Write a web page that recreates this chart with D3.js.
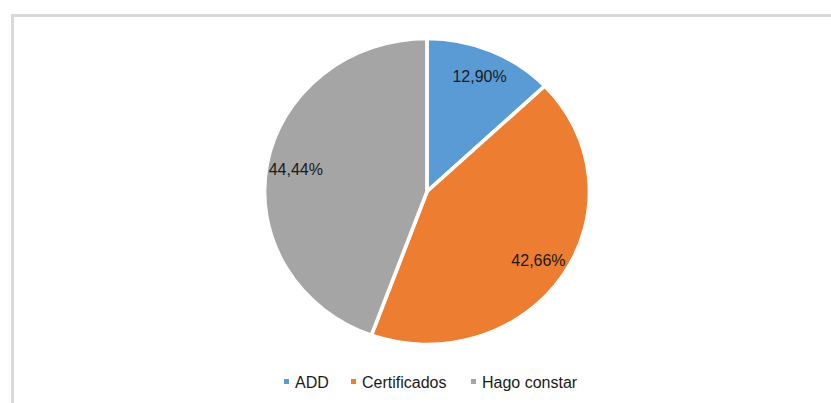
<!DOCTYPE html>
<html>
<head>
<meta charset="utf-8">
<script src="https://cdn.jsdelivr.net/npm/d3@7"></script>
<style>
  body { margin: 0; background: #fff; }
  svg { display: block; font-family: 'Liberation Sans', Arial, sans-serif; }
</style>
</head>
<body>
<svg id="chart" width="831" height="403"></svg>
<script>
// DATA
const categories = ['ADD', 'Certificados', 'Hago constar'];
const values = [12.90, 42.66, 44.44];
const colors = ['#5b9bd5', '#ed7d31', '#a5a5a5'];

const svg = d3.select('#chart');
const W = 831, H = 403;

// FRAME (chart area border, cut off by the screenshot)
svg.append('path')
  .attr('d', `M12.5,${H + 5}V15.5H${W + 5}`)
  .attr('fill', 'none')
  .attr('stroke', '#d9d9d9')
  .attr('stroke-width', 3);

// PIE (slightly wider than tall, as in the source)
const cx = 427, cy = 191.5, rx = 162.5, ry = 153;
const r = ry;

const pie = d3.pie().sort(null).value(d => d.value);
const arc = d3.arc().innerRadius(0).outerRadius(r);
const labelArc = d3.arc().innerRadius(r * 0.82).outerRadius(r * 0.82);

const data = categories.map((c, i) => ({ cat: c, value: values[i], color: colors[i] }));
const arcs = pie(data);

const g = svg.append('g')
  .attr('transform', `translate(${cx},${cy}) scale(${rx / r},1)`);

g.selectAll('.slice')
  .data(arcs)
  .enter()
  .append('path')
  .attr('class', 'slice')
  .attr('d', arc)
  .attr('fill', d => d.data.color)
  .attr('stroke', '#fff')
  .attr('stroke-width', 3.5)
  .attr('stroke-linejoin', 'miter');

// LABELS
const fmt = v => d3.format('.2f')(v).replace('.', ',') + '%';
svg.selectAll('.lbl')
  .data(arcs)
  .enter()
  .append('text')
  .attr('class', 'lbl')
  .attr('x', d => cx + labelArc.centroid(d)[0] * rx / r)
  .attr('y', d => cy + labelArc.centroid(d)[1])
  .attr('text-anchor', 'middle')
  .attr('dominant-baseline', 'central')
  .attr('font-size', 16)
  .attr('fill', '#1a1a1a')
  .text(d => fmt(d.data.value));

// LEGEND
const legend = svg.append('g').attr('class', 'legend');
const legendX = [284, 351, 471];
const items = legend.selectAll('g')
  .data(data)
  .enter()
  .append('g')
  .attr('transform', (d, i) => `translate(${legendX[i]},382)`);
items.append('rect')
  .attr('x', 0).attr('y', -3)
  .attr('width', 5).attr('height', 5)
  .attr('fill', d => d.color);
items.append('text')
  .attr('x', 11)
  .attr('y', 0)
  .attr('dominant-baseline', 'central')
  .attr('font-size', 16)
  .attr('fill', '#1a1a1a')
  .text(d => d.cat);
</script>
</body>
</html>
